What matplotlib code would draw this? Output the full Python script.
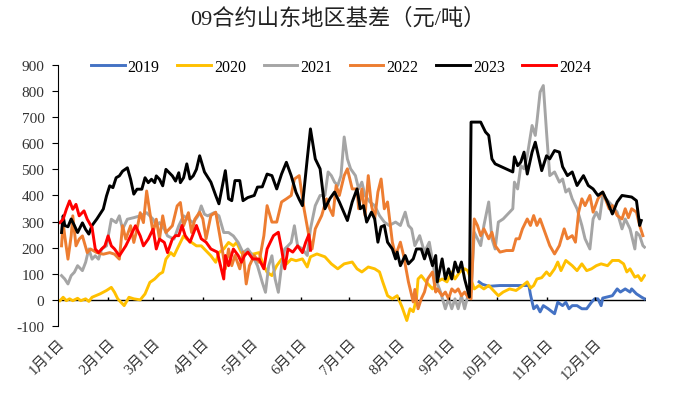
import matplotlib.pyplot as plt

plt.rcParams['font.family'] = ['Liberation Serif', 'Noto Sans CJK SC']
plt.rcParams['axes.unicode_minus'] = False

# day of year (Jan 1 = 0) and basis values (yuan/ton)
days19 = [262, 264, 268, 275, 285, 293, 294, 296, 298, 300, 302, 305, 309, 311, 314, 316, 318, 320, 323, 326,
          329, 332, 334, 336, 338, 339, 345, 348, 350, 353, 356, 357, 360, 363, 365]
vals19 = [69, 60, 52, 55, 55, 55, 20, -34, -22, -46, -22, -34, -53, -9, -22, -9, -34, -22, -22, -34,
          -34, -9, 4, 4, -22, 7, 16, 42, 30, 42, 30, 42, 23, 11, 4]

days20 = [1, 3, 5, 7, 9, 12, 14, 17, 19, 21, 26, 30, 33, 35, 37, 41, 44, 47, 51, 54,
          57, 60, 63, 65, 67, 70, 72, 74, 76, 78, 80, 83, 86, 89, 92, 95, 98, 100, 103, 106,
          109, 111, 114, 118, 121, 125, 127, 130, 133, 136, 139, 142, 145, 148, 152, 155, 157, 161, 166, 170,
          174, 178, 183, 186, 189, 193, 197, 200, 202, 205, 208, 211, 214, 217, 219, 221, 223, 224, 226, 229,
          233, 236, 239, 242, 245, 247, 250, 253, 255, 259, 262, 265, 268, 270, 274, 277, 281, 285, 288, 292,
          294, 296, 298, 301, 304, 306, 309, 311, 313, 316, 320, 323, 326, 329, 332, 335, 338, 342, 345, 349,
          352, 354, 356, 359, 361, 363, 365]
vals20 = [-3, 10, -3, 4, -3, 6, -3, 4, -6, 10, 23, 36, 48, 29, 4, -22, 10, 4, 0, 23,
          67, 80, 99, 106, 156, 181, 169, 195, 220, 245, 233, 220, 207, 207, 188, 169, 144, 181, 195, 220,
          207, 220, 181, 181, 175, 181, 144, 106, 93, 131, 156, 137, 156, 150, 157, 126, 165, 176, 165, 138,
          119, 138, 145, 119, 107, 126, 119, 107, 69, 16, 4, 16, -27, -79, -34, -45, 4, 80, 93, 69,
          42, 69, 80, 69, 107, 80, 107, 119, 112, 42, 55, 42, 55, 42, 16, 30, 42, 36, 49, 69,
          45, 55, 80, 85, 107, 93, 119, 145, 112, 151, 131, 112, 138, 112, 119, 131, 138, 131, 151, 151,
          138, 107, 119, 87, 93, 74, 93]

days21 = [2, 4, 6, 8, 10, 12, 15, 17, 19, 21, 23, 25, 27, 30, 33, 36, 38, 40, 43, 47,
          51, 55, 59, 61, 63, 66, 68, 72, 75, 78, 81, 84, 87, 89, 91, 93, 97, 100, 103, 106,
          109, 112, 115, 118, 121, 124, 127, 129, 131, 133, 135, 137, 139, 141, 143, 145, 147, 149, 152, 155,
          157, 160, 163, 166, 168, 170, 172, 174, 176, 178, 180, 182, 185, 187, 189, 191, 194, 197, 200, 203,
          206, 210, 213, 216, 218, 220, 222, 225, 228, 231, 235, 238, 241, 243, 245, 247, 249, 251, 253, 255,
          257, 259, 261, 263, 265, 268, 270, 272, 274, 277, 281, 283, 284, 286, 288, 290, 292, 295, 297, 298,
          300, 302, 304, 306, 309, 312, 314, 316, 318, 320, 323, 326, 328, 331, 333, 335, 337, 339, 341, 345,
          348, 351, 353, 356, 359, 360, 362, 364, 365]
vals21 = [93, 80, 61, 93, 106, 131, 112, 144, 195, 156, 169, 156, 195, 207, 309, 296, 322, 271, 309, 315,
          322, 334, 309, 284, 296, 271, 245, 233, 284, 322, 309, 296, 322, 360, 328, 322, 334, 322, 258, 258,
          245, 220, 181, 195, 169, 131, 67, 29, 131, 169, 80, 29, 131, 195, 207, 220, 284, 207, 195, 170,
          272, 361, 400, 400, 490, 476, 451, 438, 476, 624, 540, 502, 476, 425, 451, 400, 375, 361, 323, 298,
          285, 298, 285, 336, 285, 272, 208, 246, 183, 221, 80, 30, -34, 4, -34, 4, -34, 16, -34, 16,
          30, 259, 234, 208, 285, 375, 234, 195, 298, 310, 336, 349, 451, 425, 514, 502, 552, 668, 630, 681,
          796, 821, 643, 476, 490, 451, 463, 413, 425, 387, 349, 285, 234, 195, 310, 336, 310, 400, 387, 361,
          336, 272, 310, 272, 195, 259, 246, 208, 202]

days22 = [2, 3, 4, 6, 8, 9, 11, 13, 15, 18, 20, 24, 28, 32, 35, 38, 40, 42, 45, 47,
          49, 51, 53, 55, 57, 59, 61, 63, 65, 67, 71, 74, 76, 78, 81, 83, 85, 88, 90, 92,
          95, 98, 102, 104, 106, 108, 110, 113, 115, 117, 119, 122, 125, 128, 130, 133, 136, 139, 142, 145,
          147, 150, 153, 156, 158, 160, 164, 167, 169, 171, 173, 175, 178, 180, 183, 186, 187, 189, 191, 193,
          195, 197, 199, 201, 203, 205, 208, 210, 213, 215, 218, 221, 222, 224, 226, 228, 230, 233, 235, 236,
          239, 241, 243, 245, 247, 249, 251, 253, 255, 257, 259, 261, 263, 265, 268, 270, 272, 275, 279, 283,
          285, 287, 289, 292, 294, 296, 298, 300, 303, 306, 309, 312, 315, 317, 320, 322, 324, 326, 328, 331,
          333, 336, 339, 343, 345, 348, 351, 353, 355, 357, 360, 362, 364]
vals22 = [207, 296, 245, 156, 245, 322, 207, 233, 245, 181, 195, 181, 175, 181, 175, 156, 284, 233, 284, 220,
          271, 334, 296, 417, 334, 258, 309, 233, 322, 258, 284, 360, 373, 284, 334, 258, 309, 336, 310, 234,
          323, 336, 195, 119, 195, 131, 170, 119, 183, 61, 131, 170, 144, 246, 361, 298, 298, 375, 387, 400,
          463, 476, 349, 246, 195, 272, 323, 387, 349, 323, 438, 400, 476, 502, 425, 425, 349, 425, 323, 476,
          361, 310, 413, 463, 349, 375, 221, 170, 221, 170, 69, -8, 40, -34, 4, 30, 80, 107, 30, 42,
          16, 30, 4, 42, 30, 42, 16, 30, 11, 4, 310, 285, 246, 272, 234, 259, 208, 183, 189, 189,
          234, 234, 272, 310, 285, 323, 285, 310, 259, 208, 176, 208, 272, 234, 246, 221, 336, 387, 361, 400,
          336, 387, 413, 349, 361, 323, 310, 349, 315, 349, 336, 285, 246]

days23 = [2, 3, 4, 6, 8, 10, 12, 15, 17, 19, 21, 24, 28, 30, 32, 34, 36, 38, 40, 43,
          45, 47, 49, 52, 54, 56, 58, 60, 61, 63, 65, 67, 71, 73, 75, 76, 78, 80, 82, 84,
          86, 88, 91, 95, 98, 100, 104, 106, 108, 110, 113, 115, 118, 122, 124, 127, 130, 133, 136, 139,
          142, 145, 148, 150, 152, 155, 157, 160, 163, 166, 169, 172, 175, 180, 183, 186, 188, 190, 192, 195,
          197, 199, 201, 203, 205, 208, 210, 211, 213, 216, 218, 221, 223, 226, 228, 230, 233, 235, 236, 239,
          241, 243, 245, 247, 249, 251, 253, 256, 257, 263, 264, 266, 268, 270, 272, 283, 284, 286, 288, 290,
          292, 295, 297, 301, 304, 306, 309, 312, 314, 317, 320, 323, 327, 330, 333, 336, 339, 342, 345, 348,
          351, 357, 360, 362, 363]
vals23 = [258, 322, 285, 280, 310, 285, 258, 295, 270, 252, 285, 310, 348, 398, 437, 430, 468, 475, 493, 506,
          462, 405, 424, 424, 468, 449, 462, 449, 475, 462, 437, 500, 475, 455, 487, 449, 468, 521, 463, 475,
          500, 552, 490, 451, 400, 368, 495, 387, 380, 457, 457, 380, 392, 400, 432, 433, 482, 476, 425, 482,
          527, 476, 412, 385, 361, 540, 655, 540, 502, 349, 387, 413, 375, 304, 375, 425, 349, 361, 298, 336,
          310, 221, 280, 285, 221, 195, 157, 183, 131, 170, 138, 157, 195, 195, 157, 195, 131, 170, 69, 157,
          80, 119, 80, 145, 107, 145, 80, 11, 681, 681, 668, 643, 630, 540, 521, 490, 548, 514, 528, 566,
          482, 566, 604, 495, 552, 540, 572, 566, 510, 476, 490, 438, 476, 438, 425, 400, 413, 375, 329, 375,
          400, 394, 380, 285, 304]

days24 = [1, 3, 5, 7, 9, 11, 13, 16, 18, 21, 23, 25, 27, 29, 31, 33, 35, 38, 42, 45,
          48, 51, 53, 56, 59, 61, 63, 66, 68, 71, 73, 75, 77, 79, 82, 86, 89, 92, 95, 99,
          101, 103, 104, 106, 109, 112, 114, 116, 118, 121, 125, 128, 130, 132, 134, 137, 139, 141, 143, 146,
          149, 152, 154, 156, 157]
vals24 = [296, 309, 347, 379, 347, 366, 322, 341, 309, 277, 195, 181, 195, 207, 245, 207, 195, 169, 207, 245,
          284, 245, 207, 233, 271, 195, 233, 220, 181, 233, 246, 246, 285, 246, 221, 285, 234, 221, 195, 183,
          131, 80, 170, 131, 195, 170, 144, 170, 183, 157, 156, 119, 195, 221, 246, 259, 195, 119, 195, 183,
          207, 181, 220, 250, 190]

month_days = [0, 31, 59, 90, 120, 151, 181, 212, 243, 273, 304, 334]
month_labels = ['1月1日', '2月1日', '3月1日', '4月1日', '5月1日', '6月1日',
                '7月1日', '8月1日', '9月1日', '10月1日', '11月1日', '12月1日']

series = [
    ('2019', days19, vals19, '#4472C4'),
    ('2020', days20, vals20, '#FFC000'),
    ('2021', days21, vals21, '#A5A5A5'),
    ('2022', days22, vals22, '#ED7D31'),
    ('2023', days23, vals23, '#000000'),
    ('2024', days24, vals24, '#FF0000'),
]

fig = plt.figure(figsize=(6.96, 4.02), dpi=100)
ax = fig.add_axes([0.0838, 0.1866, 0.8445, 0.6494])

for name, d, v, c in series:
    ax.plot(d, v, color=c, lw=2.1, label=name, solid_joinstyle='round')

ax.set_xlim(0, 366)
ax.set_ylim(-100, 900)
ax.set_yticks(range(-100, 901, 100))
ax.tick_params(axis='y', direction='out', length=4, width=0.8, labelsize=11, pad=6, colors='black')
for lbl in ax.get_yticklabels():
    lbl.set_color('#333333')

# category axis sits on the zero line
ax.spines['bottom'].set_visible(False)
ax.spines['top'].set_visible(False)
ax.spines['right'].set_visible(False)
ax.spines['left'].set_linewidth(0.8)
ax.axhline(0, color='black', lw=1.0, zorder=1)
ax.vlines(month_days[1:] + [366], 0, 10, color='black', lw=1.0)

ax.set_xticks(month_days)
ax.set_xticklabels(month_labels, fontsize=10.5, color='#333333')
ax.tick_params(axis='x', length=0, pad=7)
for lbl in ax.get_xticklabels():
    lbl.set_rotation(45)
    lbl.set_ha('right')
    lbl.set_va('top')
    lbl.set_rotation_mode('anchor')

fig.text(0.485, 0.953, '09合约山东地区基差（元/吨）', ha='center', va='center', fontsize=16, color='#222222')

fig.legend(loc='center', bbox_to_anchor=(0.49, 0.831), ncol=6, frameon=False, fontsize=11.5,
           handlelength=2.1, handletextpad=0.2, columnspacing=1.1)

fig.savefig('out.png', dpi=100)
